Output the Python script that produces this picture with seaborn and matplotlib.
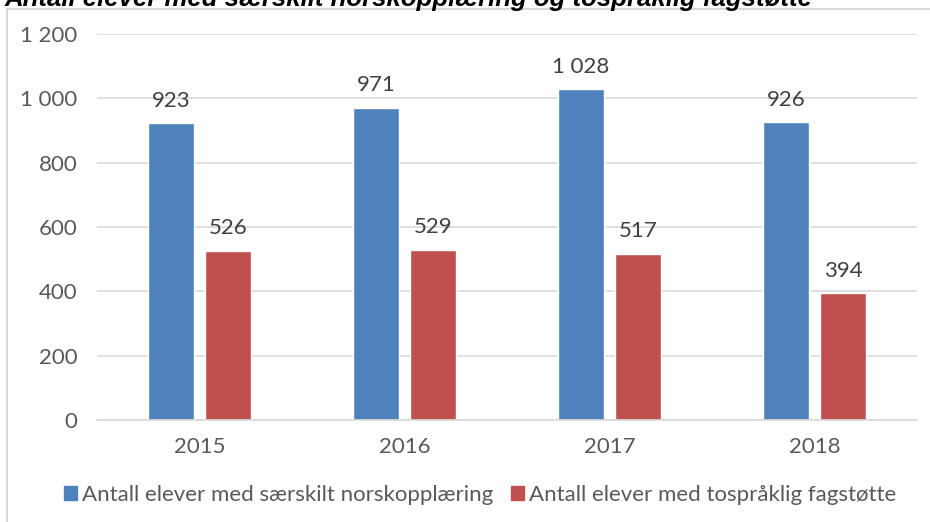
import pandas as pd
import matplotlib.pyplot as plt
import matplotlib.patches as mpatches
import seaborn as sns

# Data
years = ["2015", "2016", "2017", "2018"]
norsk = [923, 971, 1028, 926]
tosprakl = [526, 529, 517, 394]
series_names = ["Antall elever med særskilt norskopplæring",
                "Antall elever med tospråklig fagstøtte"]
title = "Antall elever med særskilt norskopplæring og tospråklig fagstøtte"

df = pd.DataFrame({
    "year": years * 2,
    "value": norsk + tosprakl,
    "series": [series_names[0]] * len(years) + [series_names[1]] * len(years),
})

sns.set_theme(style="white")
plt.rcParams['font.family'] = ['Lato', 'DejaVu Sans']

fig = plt.figure(figsize=(9.3, 5.22), dpi=100)
ax = fig.add_axes([0.1043, 0.1954, 0.882, 0.7395])

colors = ["#4F81BD", "#C0504D"]
sns.barplot(data=df, x="year", y="value", hue="series", palette=colors,
            width=0.56, gap=0.2, ax=ax, legend=False, saturation=1)

# data labels
for cont in ax.containers:
    ax.bar_label(cont, padding=9, fontsize=16, color="#404040",
                 labels=[f"{int(v):,}".replace(",", " ") for v in cont.datavalues])

ax.set_ylim(0, 1200)
ax.set_xlim(-0.5, 3.5)
ax.set_yticks(range(0, 1201, 200))
ax.set_yticklabels([f"{v:,}".replace(",", " ") for v in range(0, 1201, 200)])
ax.yaxis.grid(True, color="#D9D9D9", linewidth=1.2)
ax.set_axisbelow(True)
for s in ["top", "right", "left"]:
    ax.spines[s].set_visible(False)
ax.spines["bottom"].set_color("#D9D9D9")
ax.spines["bottom"].set_linewidth(1.2)
ax.tick_params(axis="both", length=0, labelsize=16, labelcolor="#595959")
ax.tick_params(axis="y", pad=14)
ax.tick_params(axis="x", pad=12)
ax.set_xlabel("")
ax.set_ylabel("")

handles = [mpatches.Patch(color=c, label=n) for c, n in zip(colors, series_names)]
fig.legend(handles=handles, loc="center", bbox_to_anchor=(0.516, 0.052), ncol=2,
           frameon=False, fontsize=16, handlelength=0.6, handleheight=0.6,
           handletextpad=0.2, columnspacing=0.8, labelcolor="#595959")

# outer chart frame
fig.add_artist(mpatches.Rectangle((7 / 930, -0.05), 1.1, 1 - 9 / 522 + 0.05,
                                  transform=fig.transFigure, fill=False,
                                  edgecolor="#D9D9D9", linewidth=1.5))

# title, cut off at the top edge like in the reference
fig.text(0.005, 1.005, title, fontsize=18.5, fontweight="bold", fontstyle="italic",
         ha="left", va="center", color="black", family=["Liberation Sans", "DejaVu Sans"])

fig.savefig("out.png", dpi=100)
